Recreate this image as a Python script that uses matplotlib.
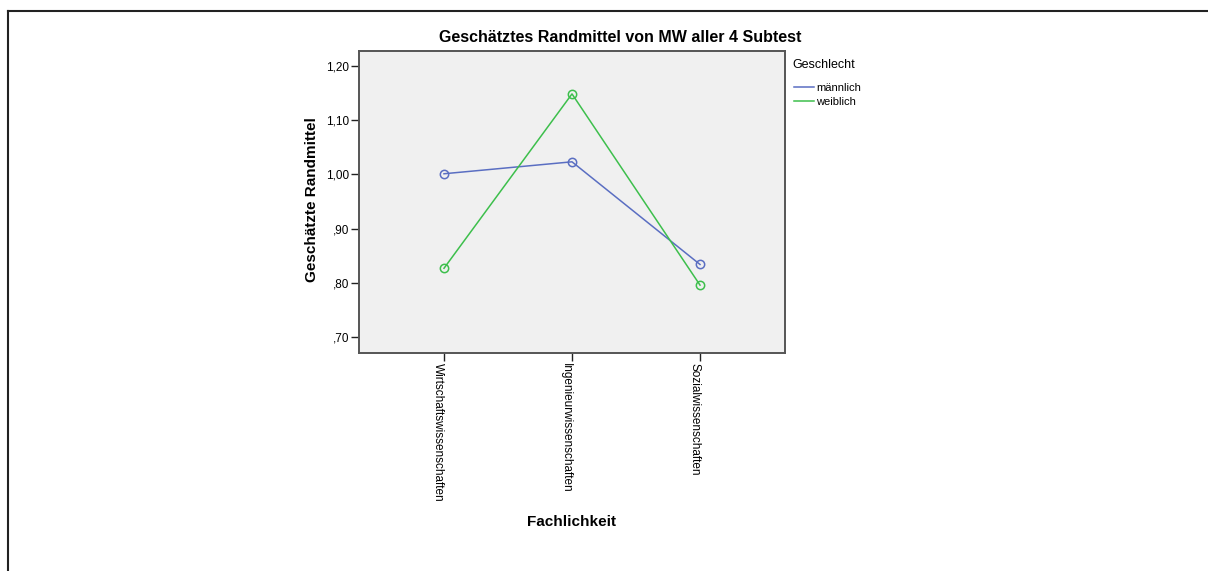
import numpy as np
import matplotlib
matplotlib.use("Agg")
import matplotlib.pyplot as plt
from matplotlib.lines import Line2D
from matplotlib.ticker import FuncFormatter

plt.rcParams["font.family"] = ["Liberation Sans", "DejaVu Sans"]

# ---- data --------------------------------------------------------------------
faecher = ["Wirtschaftswissenschaften", "Ingenieurwissenschaften", "Sozialwissenschaften"]
gruppen = ["männlich", "weiblich"]
maennlich = [1.001, 1.023, 0.834]
weiblich = [0.827, 1.148, 0.796]
y_ticks = [0.70, 0.80, 0.90, 1.00, 1.10, 1.20]

c_m = "#5a6ec2"
c_w = "#3dbf4c"

fig = plt.figure(figsize=(12.08, 5.71), dpi=100)
W, H = 1208, 571
# axes box in pixels: left 359, right 785, top 51, bottom 353
ax = fig.add_axes([359 / W, 1 - 353 / H, (785 - 359) / W, (353 - 51) / H])
ax.set_facecolor("#f0f0f0")

x = np.arange(len(faecher))
for vals, col in [(maennlich, c_m), (weiblich, c_w)]:
    ax.plot(x, vals, color=col, lw=1.1, marker="o", ms=6, mfc="none", mec=col, mew=1.1)

ax.set_xlim(-0.664, 2.664)
ax.set_ylim(0.671, 1.227)
ax.set_yticks(y_ticks)
ax.yaxis.set_major_formatter(FuncFormatter(lambda v, p: f"{v:.2f}".replace("0.", ".").replace(".", ",")))
ax.set_xticks(x)
ax.set_xticklabels(faecher, rotation=270, ha="right", va="top", fontsize=8.5)
ax.tick_params(axis="y", labelsize=8.5, length=6, width=1, color="#222222", pad=1)
ax.tick_params(axis="x", length=6, width=1, color="#222222", pad=1)
for s in ax.spines.values():
    s.set_color("#555555")
    s.set_linewidth(1.4)

fig.text(312 / W, 1 - 200 / H, "Geschätzte Randmittel", rotation=90, ha="center", va="center",
         fontsize=11, fontweight="bold")
fig.text(572 / W, 1 - 522 / H, "Fachlichkeit", ha="center", va="center", fontsize=11, fontweight="bold")
fig.text(620 / W, 1 - 37 / H, "Geschätztes Randmittel von MW aller 4 Subtest", ha="center", va="center",
         fontsize=11.5, fontweight="bold")

# legend: title as text, entries as line handles without markers
fig.text(792 / W, 1 - 65 / H, "Geschlecht", ha="left", va="center", fontsize=9)
handles = [Line2D([], [], color=c_m, lw=1.1), Line2D([], [], color=c_w, lw=1.1)]
fig.legend(handles, gruppen, loc="upper left", bbox_to_anchor=(794 / W, 1 - 83 / H), frameon=False,
           fontsize=8, handlelength=1.8, handletextpad=0.2, labelspacing=0.35,
           borderaxespad=0, borderpad=0)

# outer frame (left and top only)
fig.add_artist(Line2D([8 / W, 8 / W], [0, 1 - 11 / H], color="#222222", lw=1.5, transform=fig.transFigure))
fig.add_artist(Line2D([8 / W, 1], [1 - 11 / H, 1 - 11 / H], color="#222222", lw=1.5, transform=fig.transFigure))

fig.savefig("out.png", dpi=100)
